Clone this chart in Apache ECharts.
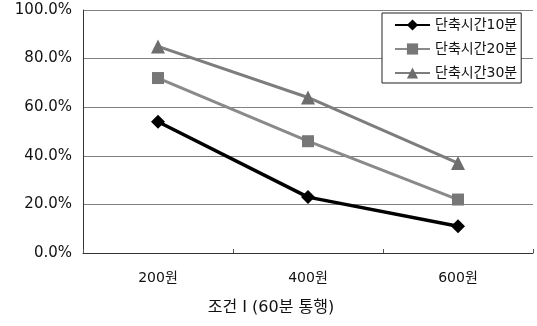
<!DOCTYPE html>
<html>
<head>
<meta charset="utf-8">
<script src="https://cdn.jsdelivr.net/npm/echarts@6/dist/echarts.min.js"></script>
<style>
  html, body { margin: 0; padding: 0; background: #fff; }
  #chart { width: 537px; height: 326px; }
</style>
</head>
<body>
<div id="chart"></div>
<script>
// Fare levels on the x axis
const categories = ['200원', '400원', '600원'];
// Share (%) for each time-saving scenario
const saved10 = [54, 23, 11];
const saved20 = [72, 46, 22];
const saved30 = [85, 64, 37];
const seriesNames = ['단축시간10분', '단축시간20분', '단축시간30분'];
const axisTitle = '조건 I (60분 통행)';

const font = '"DejaVu Sans", "Noto Sans CJK KR", sans-serif';
const chart = echarts.init(document.getElementById('chart'));

chart.setOption({
  animation: false,
  textStyle: { fontFamily: font },
  // x-axis caption, set slightly left of the plot centre
  title: {
    text: axisTitle,
    left: 271,
    top: 300,
    textAlign: 'center',
    padding: 0,
    textStyle: { fontSize: 16, fontWeight: 'normal', color: '#111', fontFamily: font }
  },
  grid: {
    left: 83, right: 4, top: 10, bottom: 73,
    containLabel: false,
    outerBoundsMode: 'none'
  },
  legend: {
    orient: 'vertical',
    left: 382,
    top: 13,
    itemWidth: 35,
    itemHeight: 14,
    itemGap: 10,
    padding: [5, 4, 3, 12],
    borderColor: '#222',
    borderWidth: 1,
    borderRadius: 0,
    backgroundColor: '#fff',
    textStyle: { fontSize: 14, color: '#111', fontFamily: font },
    data: seriesNames
  },
  xAxis: {
    type: 'category',
    data: categories,
    boundaryGap: true,
    axisLine: { lineStyle: { color: '#333', width: 1 } },
    axisTick: { show: true, inside: true, length: 4, lineStyle: { color: '#555' } },
    axisLabel: { fontSize: 14, color: '#111', margin: 18 },
    splitLine: { show: false }
  },
  yAxis: {
    type: 'value',
    min: 0,
    max: 100,
    interval: 20,
    axisLine: { show: true, lineStyle: { color: '#333', width: 1 } },
    axisTick: { show: false },
    axisLabel: {
      fontSize: 15,
      color: '#111',
      margin: 11,
      formatter: v => v.toFixed(1) + '%'
    },
    splitLine: { show: true, lineStyle: { color: '#808080', width: 1 } }
  },
  series: [
    {
      name: seriesNames[0],
      type: 'line',
      data: saved10,
      symbol: 'diamond',
      symbolSize: 14,
      lineStyle: { color: '#000', width: 3.5 },
      itemStyle: { color: '#000' },
      z: 5
    },
    {
      name: seriesNames[1],
      type: 'line',
      data: saved20,
      symbol: 'rect',
      symbolSize: 12,
      lineStyle: { color: '#8a8a8a', width: 3 },
      itemStyle: { color: '#777' },
      z: 4
    },
    {
      name: seriesNames[2],
      type: 'line',
      data: saved30,
      symbol: 'triangle',
      symbolSize: 14,
      lineStyle: { color: '#7d7d7d', width: 3 },
      itemStyle: { color: '#6e6e6e' },
      z: 3
    }
  ]
});
</script>
</body>
</html>
